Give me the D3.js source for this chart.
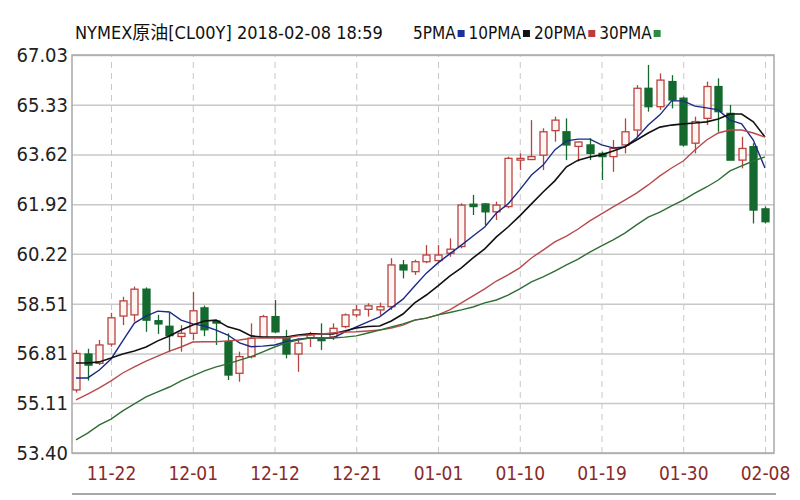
<!DOCTYPE html>
<html><head><meta charset="utf-8">
<script src="https://cdn.jsdelivr.net/npm/d3@7"></script>
<style>body{margin:0;background:#fff}svg{display:block}</style>
</head><body>
<svg id="c" width="800" height="500"></svg>
<script>
const dates = ["11-17","11-20","11-21","11-22","11-23","11-24","11-27","11-28","11-29","11-30",
"12-01","12-04","12-05","12-06","12-07","12-08","12-11","12-12","12-13","12-14",
"12-15","12-18","12-19","12-20","12-21","12-22","12-25","12-26","12-27","12-28",
"12-29","01-01","01-02","01-03","01-04","01-05","01-08","01-09","01-10","01-11",
"01-12","01-15","01-16","01-17","01-18","01-19","01-22","01-23","01-24","01-25",
"01-26","01-29","01-30","01-31","02-01","02-02","02-05","02-06","02-07","02-08"];
const opens  = [55.56,56.79,56.47,57.13,58.09,58.13,59.01,57.93,57.74,57.39,
57.50,58.37,57.92,57.21,56.13,56.70,57.36,58.07,57.36,56.79,
57.35,57.30,57.38,57.73,58.13,58.32,58.30,58.41,59.84,59.61,
59.95,59.99,60.24,60.47,61.92,61.93,61.66,61.84,63.43,63.45,
63.60,64.44,64.40,63.90,63.95,63.66,63.55,63.95,64.46,65.89,
65.26,66.12,65.55,64.01,64.86,65.95,65.03,63.43,63.89,61.76];
const highs  = [56.93,56.97,57.27,58.20,58.75,59.10,59.07,58.13,58.20,57.78,
58.92,58.45,57.95,57.50,56.87,57.84,58.13,58.64,57.61,57.33,
57.55,57.84,57.84,58.18,58.47,58.53,58.55,60.07,60.01,60.02,
60.52,60.52,60.75,61.95,62.24,61.95,62.01,63.55,63.66,64.80,
64.52,64.92,64.86,64.07,64.18,63.72,64.12,64.86,66.00,66.69,
66.40,66.34,65.60,64.92,66.12,66.23,65.32,64.23,64.01,61.84];
const lows   = [55.47,55.88,56.41,57.04,57.78,57.90,57.55,57.48,56.85,56.87,
57.27,57.40,57.10,55.90,55.84,56.64,57.33,57.50,56.64,56.18,
57.03,56.93,57.27,57.67,58.05,58.07,58.13,58.30,59.38,59.50,
59.90,59.95,60.12,60.41,61.55,61.21,61.38,61.78,63.09,63.43,
63.09,64.06,63.43,63.38,63.43,62.75,63.03,63.66,64.23,65.09,
65.15,65.20,63.89,63.66,64.63,64.40,63.43,63.15,61.26,61.26];
const closes = [56.81,56.41,57.10,58.03,58.61,59.01,57.95,57.82,57.42,57.50,
58.27,57.62,57.85,56.07,56.70,57.33,58.07,57.55,56.79,57.16,
57.45,57.25,57.67,58.13,58.30,58.44,58.41,59.84,59.67,59.95,
60.18,60.18,60.38,61.89,61.84,61.66,61.89,63.49,63.49,63.55,
64.40,64.80,63.95,64.05,63.66,63.55,63.83,64.40,65.89,65.26,
66.17,65.49,63.95,64.75,65.95,65.09,63.43,63.83,61.72,61.32];
const ma5  = [55.97,55.97,56.24,56.62,57.24,57.85,58.09,58.26,58.23,57.95,
57.82,57.75,57.61,57.44,57.17,57.04,57.06,57.10,57.21,57.30,
57.34,57.34,57.34,57.54,57.72,57.89,58.06,58.37,58.67,59.12,
59.56,59.91,60.22,60.52,60.83,61.14,61.62,61.93,62.41,62.92,
63.26,63.78,64.09,64.15,64.15,63.95,63.85,63.88,64.19,64.63,
64.98,65.46,65.46,65.28,65.22,65.15,64.80,64.67,64.12,63.16];
const ma10 = [56.48,56.48,56.52,56.65,56.79,56.89,57.03,57.24,57.41,57.61,
57.78,57.92,57.95,57.72,57.61,57.41,57.37,57.37,57.37,57.44,
57.48,57.48,57.48,57.58,57.68,57.73,57.75,57.92,58.16,58.54,
58.81,59.12,59.46,59.74,60.08,60.39,60.80,61.14,61.52,61.93,
62.34,62.72,63.20,63.43,63.54,63.61,63.74,63.89,64.12,64.36,
64.56,64.63,64.67,64.70,64.74,64.84,65.01,65.01,64.74,64.22];
const ma20 = [55.22,55.42,55.63,55.87,56.14,56.35,56.55,56.72,56.89,57.03,
57.20,57.21,57.21,57.24,57.27,57.33,57.34,57.34,57.34,57.41,
57.44,57.48,57.51,57.54,57.55,57.58,57.61,57.68,57.78,57.95,
58.02,58.13,58.30,58.54,58.78,59.02,59.29,59.50,59.74,60.08,
60.35,60.63,60.83,61.07,61.35,61.59,61.83,62.06,62.30,62.58,
62.89,63.16,63.40,63.78,64.12,64.36,64.46,64.46,64.36,64.22];
const ma30 = [53.85,54.08,54.36,54.56,54.84,55.08,55.32,55.49,55.66,55.87,
56.04,56.21,56.35,56.45,56.58,56.70,56.86,57.03,57.17,57.27,
57.34,57.34,57.34,57.37,57.41,57.51,57.61,57.72,57.82,57.95,
58.02,58.13,58.21,58.30,58.40,58.54,58.64,58.81,59.02,59.26,
59.43,59.63,59.84,60.04,60.28,60.49,60.70,60.93,61.21,61.48,
61.65,61.86,62.06,62.30,62.51,62.75,63.06,63.23,63.40,63.54];
const tickLabels = ["11-22","12-01","12-12","12-21","01-01","01-10","01-19","01-30","02-08"];
const yTicks = [53.40,55.11,56.81,58.51,60.22,61.92,63.62,65.33,67.03];
const titleText = "NYMEX原油[CL00Y] 2018-02-08 18:59";
const legendNames = ["5PMA","10PMA","20PMA","30PMA"];

const FONT = "'Liberation Sans Narrow','DejaVu Sans Condensed','Noto Sans CJK SC',sans-serif";
const maColors = ["#1c2a84","#111111","#b84a4a","#2f6e34"];
const legendColors = ["#1a2fa0","#111111","#c03a3a","#2e8b3e"];
const upColor = "#b8433f", downColor = "#14692f";

const svg = d3.select("#c");
const L = 72, R = 774, T = 55, B = 453;
const x = d3.scalePoint().domain(dates).range([76, 765]);
const y = d3.scaleLinear().domain([53.40, 67.03]).range([B, T]);

// horizontal gridlines + y labels
const yAxis = d3.axisLeft(y).tickValues(yTicks).tickFormat(d3.format(".2f"))
  .tickSizeInner(-(R - L)).tickSizeOuter(0).tickPadding(4);
const gy = svg.append("g").attr("transform", `translate(${L},0)`).call(yAxis);
gy.select(".domain").remove();
gy.selectAll("line").attr("stroke", "#c8c8c8").attr("stroke-width", 1.5);
gy.selectAll("text").attr("font-family", FONT).attr("font-size", 20).attr("fill", "#222");

// vertical dashed gridlines + x labels
const xAxis = d3.axisBottom(x).tickValues(tickLabels)
  .tickSizeInner(-(B - T)).tickSizeOuter(0).tickPadding(14);
const gx = svg.append("g").attr("transform", `translate(0,${B})`).call(xAxis);
gx.select(".domain").remove();
gx.selectAll("line").attr("stroke", "#c8c8c8").attr("stroke-width", 1).attr("stroke-dasharray", "6,5");
gx.selectAll("text").attr("font-family", FONT).attr("font-size", 19).attr("fill", "#8a2a2a");

// plot border
svg.append("rect").attr("x", L).attr("y", T).attr("width", R - L).attr("height", B - T)
  .attr("fill", "none").attr("stroke", "#a8a8a8").attr("stroke-width", 1.5);
svg.append("line").attr("x1", L).attr("x2", R + 2).attr("y1", 494).attr("y2", 494)
  .attr("stroke", "#a8a8a8").attr("stroke-width", 2);

// candles
const idx = d3.range(dates.length);
const bw = 7;
const cg = svg.append("g");
idx.forEach(i => {
  const up = closes[i] >= opens[i];
  const col = up ? upColor : downColor;
  const cx = Math.round(x(dates[i])) + 0.5;
  cg.append("line").attr("x1", cx).attr("x2", cx).attr("y1", y(highs[i])).attr("y2", y(lows[i]))
    .attr("stroke", col).attr("stroke-width", 1.3);
  const top = y(Math.max(opens[i], closes[i])), bot = y(Math.min(opens[i], closes[i]));
  cg.append("rect").attr("x", cx - bw / 2).attr("y", top).attr("width", bw)
    .attr("height", Math.max(1.5, bot - top))
    .attr("fill", up ? "#fff6f4" : downColor).attr("stroke", col).attr("stroke-width", 1.3);
});

// moving averages
[ma5, ma10, ma20, ma30].forEach((arr, k) => {
  const line = d3.line().x((d, i) => x(dates[i])).y(d => y(d));
  svg.append("path").datum(arr).attr("d", line).attr("fill", "none")
    .attr("stroke", maColors[k]).attr("stroke-width", k === 1 ? 1.6 : 1.4);
});

// title and legend
const tg = svg.append("g").attr("font-family", FONT).attr("fill", "#111");
tg.append("text").attr("x", 75).attr("y", 39).attr("font-size", 18).text(titleText);
let lx = 413;
legendNames.forEach((n, k) => {
  const t = tg.append("text").attr("x", lx).attr("y", 39).attr("font-size", 17).text(n);
  const w = t.node().getComputedTextLength();
  tg.append("rect").attr("x", lx + w + 2).attr("y", 30).attr("width", 7).attr("height", 7)
    .attr("fill", legendColors[k]);
  lx += w + 13;
});
</script>
</body></html>
